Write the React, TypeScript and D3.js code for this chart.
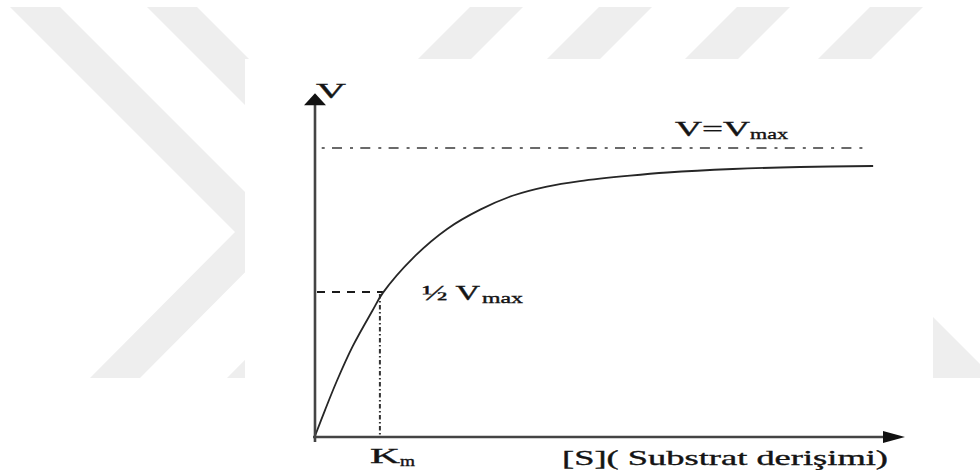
import React from "react";
import * as d3 from "d3";

// ---- data (S in arbitrary units, V as fraction of Vmax)
const S_VALUES = [0, 0.17, 0.37, 0.64, 0.97, 1.15, 1.66, 2.24, 2.8, 3.36, 3.93, 4.49, 5.34, 5.97, 7.08, 8.22, 9.46];
const V_VALUES = [0, 0.09, 0.191, 0.312, 0.434, 0.497, 0.618, 0.719, 0.786, 0.835, 0.866, 0.885, 0.904, 0.915, 0.927, 0.934, 0.9375];
const VMAX = 1;
const HALF_VMAX = 0.5;
const KM = 1.1;
const S_MAX = 10; // x-axis arrow tip
const V_TOP = 1.19; // y-axis arrow tip
const VMAX_LINE_END = 9.28;

const Y_LABEL = "V";
const VMAX_LABEL = ["V=V", "max"];
const HALF_LABEL = ["½ V", "max"];
const KM_LABEL = ["K", "m"];
const X_LABEL = "[S]( Substrat derişimi)";

const WATERMARK = "#eeeeee";
const FONT = "'Liberation Serif', 'Times New Roman', serif";

export default function App() {
  const W = 980, H = 470;
  const x = d3.scaleLinear().domain([0, S_MAX]).range([315, 905]);
  const y = d3.scaleLinear().domain([0, VMAX]).range([436, 148]);

  const pts: [number, number][] = S_VALUES.map((s, i) => [s, V_VALUES[i]]);
  const line = d3
    .line<[number, number]>()
    .x((d) => x(d[0]))
    .y((d) => y(d[1]))
    .curve(d3.curveCatmullRom.alpha(0.5));

  // decorative watermark (chevrons and slashes)
  const chevron = (dx: number) =>
    [
      [10, 7], [60, 7], [285, 232], [140, 378], [90, 378], [235, 232],
    ].map(([a, b]) => `${a + dx},${b}`).join(" ");
  const slash = (x0: number) =>
    [[x0, 7], [x0 + 53, 7], [x0, 60], [x0 - 53, 60]].map(([a, b]) => `${a},${b}`).join(" ");
  const slashStarts = [470, 599, 737, 870];

  const x0 = x(0), y0 = y(0);
  const yTip = y(V_TOP), xTip = x(S_MAX);

  return (
    <svg
      width={W}
      height={H}
      viewBox={`0 0 ${W} ${H}`}
      style={{ position: "fixed", left: 0, top: 0, background: "#ffffff" }}
    >
      <rect x={0} y={0} width={W} height={H} fill="#ffffff" />
      {/* watermark */}
      <polygon points={chevron(0)} fill={WATERMARK} />
      <polygon points={chevron(137)} fill={WATERMARK} />
      {slashStarts.map((s) => (
        <polygon key={s} points={slash(s)} fill={WATERMARK} />
      ))}
      <polygon points="880,264 994,378 880,378" fill={WATERMARK} />
      {/* white panel */}
      <rect x={245} y={59} width={688} height={411} fill="#ffffff" />

      {/* Vmax dash-dot line */}
      <line
        x1={x0 + 3}
        x2={x(VMAX_LINE_END)}
        y1={y(VMAX)}
        y2={y(VMAX)}
        stroke="#3a3a3a"
        strokeWidth={1.6}
        strokeDasharray="10 8 3 7.3"
        strokeDashoffset={14.3}
      />
      {/* half Vmax dashed line */}
      <line
        x1={x0 + 2}
        x2={x(KM) + 3}
        y1={y(HALF_VMAX)}
        y2={y(HALF_VMAX)}
        stroke="#1a1a1a"
        strokeWidth={2.2}
        strokeDasharray="8 7"
      />
      {/* Km vertical dash-dot line */}
      <line
        x1={x(KM)}
        x2={x(KM)}
        y1={y(HALF_VMAX) + 2}
        y2={y0}
        stroke="#333333"
        strokeWidth={2}
        strokeDasharray="4.5 2.5 1.5 2.5"
      />

      {/* curve */}
      <path d={line(pts) || ""} fill="none" stroke="#262626" strokeWidth={1.8} />

      {/* axes */}
      <line x1={x0} x2={x0} y1={y0 + 6} y2={yTip + 10} stroke="#444444" strokeWidth={2.6} />
      <polygon
        points={`${x0},${yTip} ${x0 - 11},${yTip + 12} ${x0 + 11},${yTip + 12}`}
        fill="#111111"
      />
      <line x1={x0 - 2} x2={xTip - 10} y1={y0 + 1} y2={y0 + 1} stroke="#444444" strokeWidth={2.4} />
      <polygon
        points={`${xTip},${y0 + 1} ${xTip - 22},${y0 - 5} ${xTip - 22},${y0 + 7}`}
        fill="#111111"
      />

      {/* labels */}
      <g fontFamily={FONT} fill="#141414" stroke="#141414" strokeWidth={0.35}>
        <text x={316} y={98} fontSize={22} textLength={30} lengthAdjust="spacingAndGlyphs">
          {Y_LABEL}
        </text>
        <text x={675} y={136} fontSize={20} textLength={75} lengthAdjust="spacingAndGlyphs">
          {VMAX_LABEL[0]}
        </text>
        <text x={750} y={139} fontSize={14} textLength={38} lengthAdjust="spacingAndGlyphs">
          {VMAX_LABEL[1]}
        </text>
        <text x={422} y={300} fontSize={20} textLength={58} lengthAdjust="spacingAndGlyphs">
          {HALF_LABEL[0]}
        </text>
        <text x={482} y={303} fontSize={14} textLength={41} lengthAdjust="spacingAndGlyphs">
          {HALF_LABEL[1]}
        </text>
        <text x={370} y={463} fontSize={21} textLength={30} lengthAdjust="spacingAndGlyphs">
          {KM_LABEL[0]}
        </text>
        <text x={400} y={466} fontSize={14} textLength={15} lengthAdjust="spacingAndGlyphs">
          {KM_LABEL[1]}
        </text>
        <text x={562} y={465} fontSize={21} textLength={326} lengthAdjust="spacingAndGlyphs">
          {X_LABEL}
        </text>
      </g>
    </svg>
  );
}
